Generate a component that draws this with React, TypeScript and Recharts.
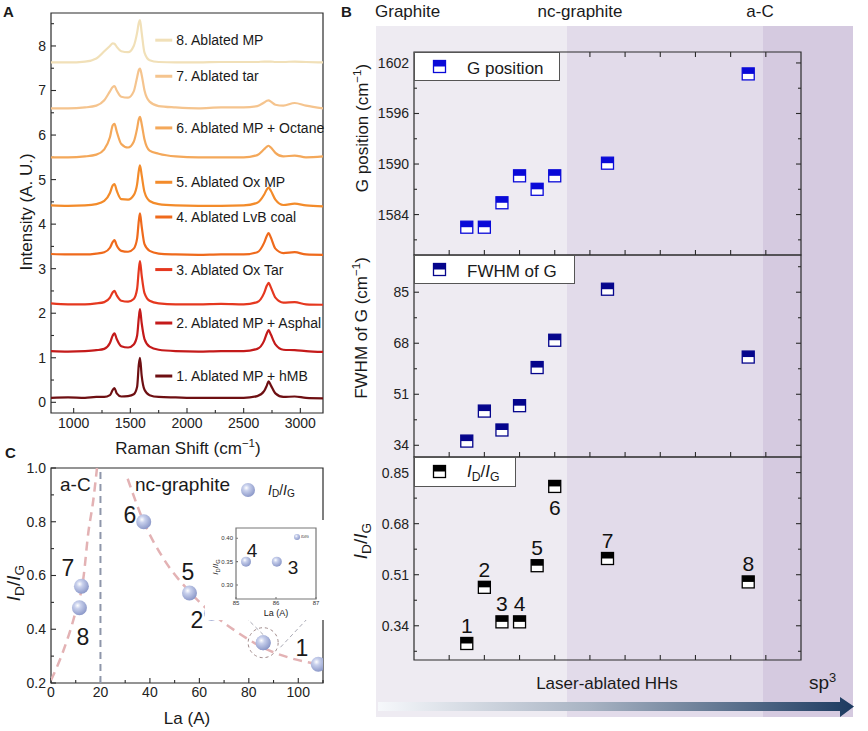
import React from 'react';
import {
  LineChart, Line, XAxis, YAxis, ScatterChart, Scatter, ComposedChart,
  ReferenceLine, ReferenceDot, ReferenceArea,
} from 'recharts';

const FONT = '"Liberation Sans", Arial, sans-serif';
const AX = '#2b2b2b';

// ---------- Panel A : Raman spectra (offset stacked)
const shifts = [800, 950, 1100, 1200, 1270, 1320, 1345, 1360, 1380, 1420, 1480, 1530, 1560, 1575, 1585, 1600, 1625, 1670, 1750, 1900, 2100, 2300, 2500, 2620, 2680, 2705, 2720, 2740, 2780, 2850, 2950, 3050, 3200];
const spec1 = [0.1, 0.11, 0.1, 0.12, 0.12, 0.16, 0.28, 0.32, 0.2, 0.13, 0.14, 0.18, 0.35, 0.85, 1.0, 0.6, 0.28, 0.16, 0.12, 0.11, 0.1, 0.1, 0.1, 0.14, 0.25, 0.38, 0.47, 0.38, 0.2, 0.12, 0.13, 0.1, 0.09];
const spec2 = [1.15, 1.14, 1.15, 1.17, 1.2, 1.33, 1.5, 1.55, 1.42, 1.26, 1.23, 1.3, 1.5, 1.9, 2.09, 1.78, 1.42, 1.25, 1.18, 1.15, 1.14, 1.15, 1.15, 1.2, 1.38, 1.55, 1.62, 1.52, 1.3, 1.18, 1.17, 1.15, 1.13];
const spec3 = [2.22, 2.2, 2.2, 2.22, 2.25, 2.35, 2.47, 2.5, 2.4, 2.28, 2.26, 2.32, 2.55, 2.98, 3.17, 2.85, 2.45, 2.28, 2.22, 2.2, 2.2, 2.21, 2.2, 2.25, 2.45, 2.62, 2.68, 2.58, 2.35, 2.24, 2.25, 2.2, 2.19];
const spec4 = [3.33, 3.32, 3.32, 3.34, 3.37, 3.47, 3.6, 3.64, 3.52, 3.4, 3.38, 3.45, 3.68, 4.08, 4.24, 3.95, 3.55, 3.4, 3.34, 3.32, 3.31, 3.32, 3.32, 3.37, 3.58, 3.74, 3.8, 3.7, 3.45, 3.35, 3.37, 3.32, 3.31];
const spec5 = [4.42, 4.41, 4.42, 4.45, 4.52, 4.7, 4.87, 4.9, 4.75, 4.56, 4.55, 4.65, 4.9, 5.2, 5.32, 5.1, 4.72, 4.52, 4.45, 4.42, 4.41, 4.41, 4.42, 4.48, 4.66, 4.78, 4.82, 4.75, 4.55, 4.43, 4.46, 4.42, 4.4];
const spec6 = [5.5, 5.5, 5.52, 5.56, 5.68, 5.95, 6.22, 6.25, 6.08, 5.8, 5.72, 5.85, 6.15, 6.36, 6.41, 6.25, 5.9, 5.65, 5.58, 5.52, 5.5, 5.5, 5.5, 5.55, 5.68, 5.74, 5.76, 5.72, 5.6, 5.52, 5.54, 5.5, 5.52];
const spec7 = [6.6, 6.6, 6.62, 6.66, 6.78, 6.98, 7.08, 7.1, 7.0, 6.86, 6.84, 6.98, 7.3, 7.46, 7.49, 7.35, 7.0, 6.75, 6.65, 6.62, 6.6, 6.62, 6.62, 6.65, 6.73, 6.77, 6.78, 6.75, 6.68, 6.66, 6.72, 6.66, 6.6];
const spec8 = [7.63, 7.63, 7.65, 7.72, 7.88, 8.0, 8.06, 8.05, 7.98, 7.88, 7.86, 8.0, 8.3, 8.52, 8.58, 8.3, 7.85, 7.68, 7.64, 7.63, 7.63, 7.64, 7.64, 7.64, 7.65, 7.65, 7.65, 7.65, 7.64, 7.64, 7.65, 7.64, 7.63];
const spectra = [spec1, spec2, spec3, spec4, spec5, spec6, spec7, spec8];
const spectraNames = ['1. Ablated MP + hMB', '2. Ablated MP + Asphal', '3. Ablated Ox Tar', '4. Ablated LvB coal', '5. Ablated Ox MP', '6. Ablated MP + Octane', '7. Ablated tar', '8. Ablated MP'];
const spectraColors = ['#6e0f12', '#c41a1a', '#e5381f', '#ef6a1c', '#f38b2a', '#f4a85a', '#f5c48e', '#f1e0b8'];
const legendLevels = [0.59, 1.78, 2.98, 4.16, 4.94, 6.16, 7.32, 8.13];
const aYTicks = [0, 0.5, 1, 1.5, 2, 2.5, 3, 3.5, 4, 4.5, 5, 5.5, 6, 6.5, 7, 7.5, 8, 8.5];
const aXTicks = [1000, 1250, 1500, 1750, 2000, 2250, 2500, 2750, 3000];

// ---------- Panel B : G position, FWHM, ID/IG per sample
const sampleIds = [1, 2, 3, 4, 5, 6, 7, 8];
const sampleX = [1.5, 2, 2.5, 3, 3.5, 4, 5.5, 9.5];
const gPosition = [1582.5, 1582.5, 1585.4, 1588.6, 1587.0, 1588.6, 1590.1, 1600.7];
const fwhmG = [35.4, 45.4, 39.1, 47.2, 59.9, 69.0, 86.0, 63.4];
const idIg = [0.281, 0.468, 0.353, 0.353, 0.54, 0.804, 0.564, 0.486];
const idLabelBelow = [false, false, false, false, false, true, false, false];
const bXTicks = [1, 2, 3, 4, 5, 6, 7, 8, 9, 10];
const gTicks = [1581, 1584, 1587, 1590, 1593, 1596, 1599, 1602];
const gLabels = [1584, 1590, 1596, 1602];
const fwhmTicks = [34, 42.5, 51, 59.5, 68, 76.5, 85, 93.5];
const fwhmLabels = [34, 51, 68, 85];
const idTicks = [0.255, 0.34, 0.425, 0.51, 0.595, 0.68, 0.765, 0.85];
const idLabels = [0.34, 0.51, 0.68, 0.85];

// ---------- Panel C : ID/IG vs La
const laValues = [108.1, 64.9, 85.8, 85.8, 56, 37.5, 12.3, 11.5];
const idIgC = [0.27, 0.46, 0.35, 0.35, 0.535, 0.8, 0.56, 0.48];
const fitLeftLa = [0, 5, 9.8, 13.1, 15.1, 17.1, 18.6];
const fitLeftY = [0.21, 0.32, 0.46, 0.59, 0.76, 0.88, 1.0];
const fitRightLa = [31, 37.5, 45, 56, 65, 76, 86, 96, 108];
const fitRightY = [0.96, 0.8, 0.67, 0.54, 0.46, 0.385, 0.33, 0.295, 0.27];
const insetLa = [86.02, 85.25];
const insetIdIg = [0.35, 0.35];
const cXTicks = [0, 10, 20, 30, 40, 50, 60, 70, 80, 90, 100, 110];
const cYTicks = [0.2, 0.3, 0.4, 0.5, 0.6, 0.7, 0.8, 0.9, 1.0];

const aData = shifts.map((s, i) => {
  const row: any = { shift: s };
  spectra.forEach((sp, k) => { row['s' + (k + 1)] = sp[i]; });
  return row;
});

const Sub = ({ c }: { c: string }) => (
  <span style={{ fontSize: '0.72em', verticalAlign: '-0.28em' }}>{c}</span>
);
const IdIg = () => (
  <span><i>I</i><Sub c="D" />/<i>I</i><Sub c="G" /></span>
);
const Cm = () => (
  <span>(cm<span style={{ fontSize: '0.68em', verticalAlign: '0.55em' }}>−1</span>)</span>
);

function Txt({ x, y, children, size = 16, anchor = 'start', rotate = 0, weight = 400, color = '#1a1a1a' }: any) {
  const tx = anchor === 'middle' ? '-50%' : anchor === 'end' ? '-100%' : '0';
  return (
    <div style={{
      position: 'absolute', left: x, top: y, whiteSpace: 'nowrap', fontFamily: FONT,
      fontSize: size, fontWeight: weight, color, lineHeight: 1,
      transform: rotate ? `translate(-50%,-50%) rotate(${rotate}deg)` : `translate(${tx},-50%)`,
    }}>{children}</div>
  );
}

// frame + inward tick marks, built as reference lines in data space
function frame(o: any) {
  const { key, xTicks = [], yTicks = [], xDom, yDom, w, h, xMajor = () => true, yMajor = () => true,
    top = false, right = false, color = AX, maj = 5, min = 3 } = o;
  const ux = (xDom[1] - xDom[0]) / w;
  const uy = (yDom[1] - yDom[0]) / h;
  const els: any[] = [
    <ReferenceArea key={key + 'f'} x1={xDom[0]} x2={xDom[1]} y1={yDom[0]} y2={yDom[1]}
      fill="none" fillOpacity={0} stroke={color} strokeWidth={1.2} />,
  ];
  xTicks.forEach((t: number, i: number) => {
    const L = (xMajor(t) ? maj : min) * uy;
    els.push(<ReferenceLine key={key + 'xb' + i} segment={[{ x: t, y: yDom[0] }, { x: t, y: yDom[0] + L }]} stroke={color} strokeWidth={1.1} />);
    if (top) els.push(<ReferenceLine key={key + 'xt' + i} segment={[{ x: t, y: yDom[1] }, { x: t, y: yDom[1] - L }]} stroke={color} strokeWidth={1.1} />);
  });
  yTicks.forEach((t: number, i: number) => {
    const L = (yMajor(t) ? maj : min) * ux;
    els.push(<ReferenceLine key={key + 'yl' + i} segment={[{ x: xDom[0], y: t }, { x: xDom[0] + L, y: t }]} stroke={color} strokeWidth={1.1} />);
    if (right) els.push(<ReferenceLine key={key + 'yr' + i} segment={[{ x: xDom[1], y: t }, { x: xDom[1] - L, y: t }]} stroke={color} strokeWidth={1.1} />);
  });
  return els;
}

const halfSquare = (color: string, withNum?: boolean) => (p: any) => {
  const { cx, cy, payload } = p;
  const s = 12;
  const below = withNum && idLabelBelow[payload.id - 1];
  return (
    <g>
      <rect x={cx - s / 2} y={cy - s / 2} width={s} height={s} fill="#fff" stroke={color} strokeWidth={1.3} />
      <rect x={cx - s / 2} y={cy - s / 2} width={s} height={s / 2} fill={color} />
      {withNum && (
        <text x={cx} y={below ? cy + 21 : cy - 18} textAnchor="middle" dominantBaseline="central"
          fontSize={21} fontFamily={FONT} fill="#111">{payload.id}</text>
      )}
    </g>
  );
};

const sphere = (r: number) => (p: any) => (
  <circle cx={p.cx} cy={p.cy} r={r} fill="url(#sphereGrad)" />
);

const tickStyle = { fontSize: 14, fill: '#222', fontFamily: FONT };

function BPanel({ top, height, values, domain, ticks, labels, fmt, color, showTop, withNum, id }: any) {
  const data = sampleX.map((x, i) => ({ x, y: values[i], id: sampleIds[i] }));
  return (
    <div style={{ position: 'absolute', left: 330, top: top - 2 }}>
      <ScatterChart width={538} height={height + 4} margin={{ top: 2, right: 67, bottom: 2, left: 0 }}>
        <XAxis dataKey="x" type="number" domain={[0, 11]} ticks={bXTicks} height={0}
          tick={false} axisLine={false} tickLine={false} allowDataOverflow />
        <YAxis dataKey="y" type="number" domain={domain} ticks={ticks} width={84} allowDataOverflow
          axisLine={false} tickLine={false} tickSize={0} tickMargin={5} tick={tickStyle}
          tickFormatter={(v: number) => (labels.includes(v) ? fmt(v) : '')} />
        {frame({
          key: id, xTicks: bXTicks, yTicks: ticks, xDom: [0, 11], yDom: domain, w: 387, h: height,
          yMajor: (v: number) => labels.includes(v), top: showTop, right: true,
        })}
        <Scatter data={data} dataKey="y" isAnimationActive={false} shape={halfSquare(color, withNum)} />
      </ScatterChart>
    </div>
  );
}

function LegendBox({ x, y, w, h, color, children }: any) {
  return (
    <div style={{
      position: 'absolute', left: x, top: y, width: w, height: h, background: '#fff',
      border: '1px solid #555', boxSizing: 'border-box',
    }}>
      <svg width={16} height={16} style={{ position: 'absolute', left: 17, top: h / 2 - 9 }}>
        <rect x={1.5} y={1.5} width={12} height={12} fill="#fff" stroke={color} strokeWidth={1.3} />
        <rect x={1.5} y={1.5} width={12} height={6} fill={color} />
      </svg>
      <div style={{ position: 'absolute', left: 52, top: h / 2, transform: 'translateY(-50%)', fontFamily: FONT, fontSize: 17, color: '#1a1a1a', whiteSpace: 'nowrap', lineHeight: 1 }}>
        {children}
      </div>
    </div>
  );
}

export default function App() {
  const cPoints = laValues.map((x, i) => ({ x, y: idIgC[i] }));
  const leftFit = fitLeftLa.map((x, i) => ({ x, y: fitLeftY[i] }));
  const rightFit = fitRightLa.map((x, i) => ({ x, y: fitRightY[i] }));
  const insetPts = insetLa.map((x, i) => ({ x, y: insetIdIg[i] }));

  return (
    <div style={{ position: 'absolute', left: 0, top: 0, width: 868, height: 731, background: '#fff', overflow: 'hidden', fontFamily: FONT }}>
      <svg width={0} height={0} style={{ position: 'absolute' }}>
        <defs>
          <radialGradient id="sphereGrad" cx="38%" cy="35%" r="70%">
            <stop offset="0%" stopColor="#ffffff" />
            <stop offset="30%" stopColor="#c8d0ec" />
            <stop offset="100%" stopColor="#8794c6" />
          </radialGradient>
          <linearGradient id="arrowGrad" x1="0" y1="0" x2="1" y2="0">
            <stop offset="0%" stopColor="#f6f8fb" />
            <stop offset="45%" stopColor="#a7b2c2" />
            <stop offset="100%" stopColor="#1c3a60" />
          </linearGradient>
        </defs>
      </svg>

      {/* Panel B backgrounds */}
      <div style={{ position: 'absolute', left: 376, top: 26, width: 191, height: 691, background: '#eeebf2' }} />
      <div style={{ position: 'absolute', left: 567, top: 26, width: 196, height: 691, background: '#e2dbea' }} />
      <div style={{ position: 'absolute', left: 763, top: 26, width: 90, height: 691, background: '#d5cae0' }} />

      {/* Panel A */}
      <div style={{ position: 'absolute', left: 0, top: 0 }}>
        <LineChart width={340} height={460} data={aData} margin={{ top: 13, right: 17, bottom: 0, left: 0 }}>
          <XAxis dataKey="shift" type="number" domain={[800, 3200]} ticks={aXTicks} height={47}
            axisLine={false} tickLine={false} tickSize={0} tickMargin={5} tick={tickStyle} allowDataOverflow
            tickFormatter={(v: number) => (v % 500 === 0 ? String(v) : '')} />
          <YAxis type="number" domain={[-0.24, 8.74]} ticks={aYTicks} width={51} allowDataOverflow
            axisLine={false} tickLine={false} tickSize={0} tickMargin={5} tick={tickStyle}
            tickFormatter={(v: number) => (Number.isInteger(v) ? String(v) : '')} />
          {frame({
            key: 'a', xTicks: aXTicks, yTicks: aYTicks, xDom: [800, 3200], yDom: [-0.24, 8.74], w: 272, h: 400,
            xMajor: (v: number) => v % 500 === 0, yMajor: (v: number) => Number.isInteger(v),
          })}
          {spectra.map((_, k) => (
            <Line key={k} type="monotone" dataKey={'s' + (k + 1)} stroke={spectraColors[k]} strokeWidth={2.2}
              dot={false} isAnimationActive={false} />
          ))}
          {spectraNames.map((name, k) => (
            <ReferenceLine key={'l' + k} segment={[{ x: 1720, y: legendLevels[k] }, { x: 1870, y: legendLevels[k] }]}
              stroke={spectraColors[k]} strokeWidth={3} />
          ))}
          {spectraNames.map((name, k) => (
            <ReferenceDot key={'d' + k} x={1852} y={legendLevels[k]} r={1} fill="none" stroke="none"
              label={{ value: name, position: 'right', fontSize: 14, fill: '#1a1a1a', fontFamily: FONT }} />
          ))}
        </LineChart>
      </div>

      {/* Panel B */}
      <BPanel id="b1" top={52} height={203} values={gPosition} domain={[1579.2, 1603.3]} ticks={gTicks} labels={gLabels}
        fmt={(v: number) => String(v)} color="#0a0ad8" showTop />
      <BPanel id="b2" top={255} height={202} values={fwhmG} domain={[30.1, 97.4]} ticks={fwhmTicks} labels={fwhmLabels}
        fmt={(v: number) => String(v)} color="#05058c" />
      <BPanel id="b3" top={457} height={203} values={idIg} domain={[0.226, 0.902]} ticks={idTicks} labels={idLabels}
        fmt={(v: number) => v.toFixed(2)} color="#000000" withNum />

      <LegendBox x={414} y={52} w={146} h={29} color="#0a0ad8">G position</LegendBox>
      <LegendBox x={414} y={255} w={161} h={29} color="#05058c">FWHM of G</LegendBox>
      <LegendBox x={414} y={457} w={102} h={30} color="#000000"><IdIg /></LegendBox>

      {/* Panel C */}
      <div style={{ position: 'absolute', left: 0, top: 455 }}>
        <ComposedChart width={340} height={276} margin={{ top: 13, right: 17, bottom: 0, left: 0 }}>
          <XAxis dataKey="x" type="number" domain={[0, 110]} ticks={cXTicks} height={48} allowDataOverflow
            axisLine={false} tickLine={false} tickSize={0} tickMargin={4} tick={tickStyle}
            tickFormatter={(v: number) => (v % 20 === 0 ? String(v) : '')} />
          <YAxis type="number" domain={[0.2, 1.0]} ticks={cYTicks} width={51} allowDataOverflow
            axisLine={false} tickLine={false} tickSize={0} tickMargin={5} tick={tickStyle}
            tickFormatter={(v: number) => (Math.round(v * 10) % 2 === 0 ? v.toFixed(1) : '')} />
          {frame({
            key: 'c', xTicks: cXTicks, yTicks: cYTicks, xDom: [0, 110], yDom: [0.2, 1.0], w: 272, h: 215,
            xMajor: (v: number) => v % 20 === 0, yMajor: (v: number) => Math.round(v * 10) % 2 === 0,
          })}
          <ReferenceLine x={20} stroke="#8e96aa" strokeWidth={2} strokeDasharray="7 5" />
          <Line data={leftFit} dataKey="y" type="monotone" stroke="#e3b2b4" strokeWidth={2.5}
            strokeDasharray="9 6" dot={false} isAnimationActive={false} />
          <Line data={rightFit} dataKey="y" type="monotone" stroke="#e3b2b4" strokeWidth={2.5}
            strokeDasharray="9 6" dot={false} isAnimationActive={false} />
          <ReferenceLine segment={[{ x: 72.6, y: 0.5 }, { x: 88, y: 0.36 }]} stroke="#a9a9b4" strokeDasharray="4 3" />
          <ReferenceLine segment={[{ x: 92.8, y: 0.333 }, { x: 105.8, y: 0.46 }]} stroke="#a9a9b4" strokeDasharray="4 3" />
          <ReferenceDot x={85.8} y={0.35} r={15} fill="none" stroke="#a08a8a" strokeDasharray="3 3" />
          <Scatter data={cPoints} dataKey="y" isAnimationActive={false} shape={sphere(7.5)} />
        </ComposedChart>
      </div>

      {/* Inset */}
      <div style={{ position: 'absolute', left: 205, top: 520, background: '#fff' }}>
        <ScatterChart width={125} height={100} margin={{ top: 8, right: 14, bottom: 0, left: 0 }}>
          <XAxis dataKey="x" type="number" domain={[85, 87]} ticks={[85, 86, 87]} height={21}
            axisLine={false} tickLine={false} tickSize={0} tickMargin={2} tick={{ fontSize: 6, fill: '#333', fontFamily: FONT }} />
          <YAxis dataKey="y" type="number" domain={[0.27, 0.422]} ticks={[0.3, 0.35, 0.4]} width={31}
            axisLine={false} tickLine={false} tickSize={0} tickMargin={3} tick={{ fontSize: 6, fill: '#333', fontFamily: FONT }}
            tickFormatter={(v: number) => v.toFixed(2)} />
          {frame({
            key: 'i', xTicks: [85, 86, 87], yTicks: [0.3, 0.35, 0.4], xDom: [85, 87], yDom: [0.27, 0.422],
            w: 80, h: 71, color: '#777', maj: 2, min: 2,
          })}
          <Scatter data={insetPts} dataKey="y" isAnimationActive={false} shape={sphere(5)} />
        </ScatterChart>
      </div>

      {/* Arrow */}
      <svg width={868} height={731} style={{ position: 'absolute', left: 0, top: 0, pointerEvents: 'none' }}>
        <polygon points="378,702 840,702 840,697 854,706.5 840,717 840,711 378,711" fill="url(#arrowGrad)" />
      </svg>

      {/* Text annotations */}
      <Txt x={3} y={11} size={15} weight={700}>A</Txt>
      <Txt x={26} y={212} size={17} rotate={-90}>Intensity (A. U.)</Txt>
      <Txt x={188} y={448} size={17} anchor="middle">Raman Shift <Cm /></Txt>

      <Txt x={341} y={11} size={15} weight={700}>B</Txt>
      <Txt x={375} y={11} size={17}>Graphite</Txt>
      <Txt x={580} y={11} size={17} anchor="middle">nc-graphite</Txt>
      <Txt x={760} y={11} size={17} anchor="middle">a-C</Txt>
      <Txt x={362} y={128} size={17} rotate={-90}>G position <Cm /></Txt>
      <Txt x={361} y={328} size={17} rotate={-90}>FWHM of G <Cm /></Txt>
      <Txt x={362} y={541} size={19} rotate={-90}><IdIg /></Txt>
      <Txt x={607} y={683} size={17} anchor="middle">Laser-ablated HHs</Txt>
      <Txt x={809} y={682} size={19}>sp<span style={{ fontSize: '0.68em', verticalAlign: '0.6em' }}>3</span></Txt>

      <Txt x={5} y={452} size={15} weight={700}>C</Txt>
      <Txt x={60} y={484} size={19}>a-C</Txt>
      <Txt x={135} y={484} size={19}>nc-graphite</Txt>
      <svg width={18} height={18} style={{ position: 'absolute', left: 239, top: 481 }}>
        <circle cx={9} cy={9} r={7} fill="url(#sphereGrad)" />
      </svg>
      <Txt x={268} y={491} size={14}><IdIg /></Txt>
      <Txt x={15} y={583} size={19} rotate={-90}><IdIg /></Txt>
      <Txt x={187} y={718} size={17} anchor="middle">La (A)</Txt>
      <Txt x={130} y={515} size={23} anchor="middle">6</Txt>
      <Txt x={188} y={572} size={23} anchor="middle">5</Txt>
      <Txt x={197} y={620} size={23} anchor="middle">2</Txt>
      <Txt x={302} y={648} size={23} anchor="middle">1</Txt>
      <Txt x={68} y={568} size={23} anchor="middle">7</Txt>
      <Txt x={83} y={637} size={23} anchor="middle">8</Txt>
      <Txt x={252} y={550} size={19} anchor="middle">4</Txt>
      <Txt x={293} y={567} size={19} anchor="middle">3</Txt>
      <svg width={8} height={8} style={{ position: 'absolute', left: 293, top: 533 }}>
        <circle cx={4} cy={4} r={3} fill="url(#sphereGrad)" />
      </svg>
      <Txt x={301} y={537} size={4}><IdIg /></Txt>
      <Txt x={217} y={567} size={8} rotate={-90}><IdIg /></Txt>
      <Txt x={276} y={613} size={9} anchor="middle">La (A)</Txt>
    </div>
  );
}
